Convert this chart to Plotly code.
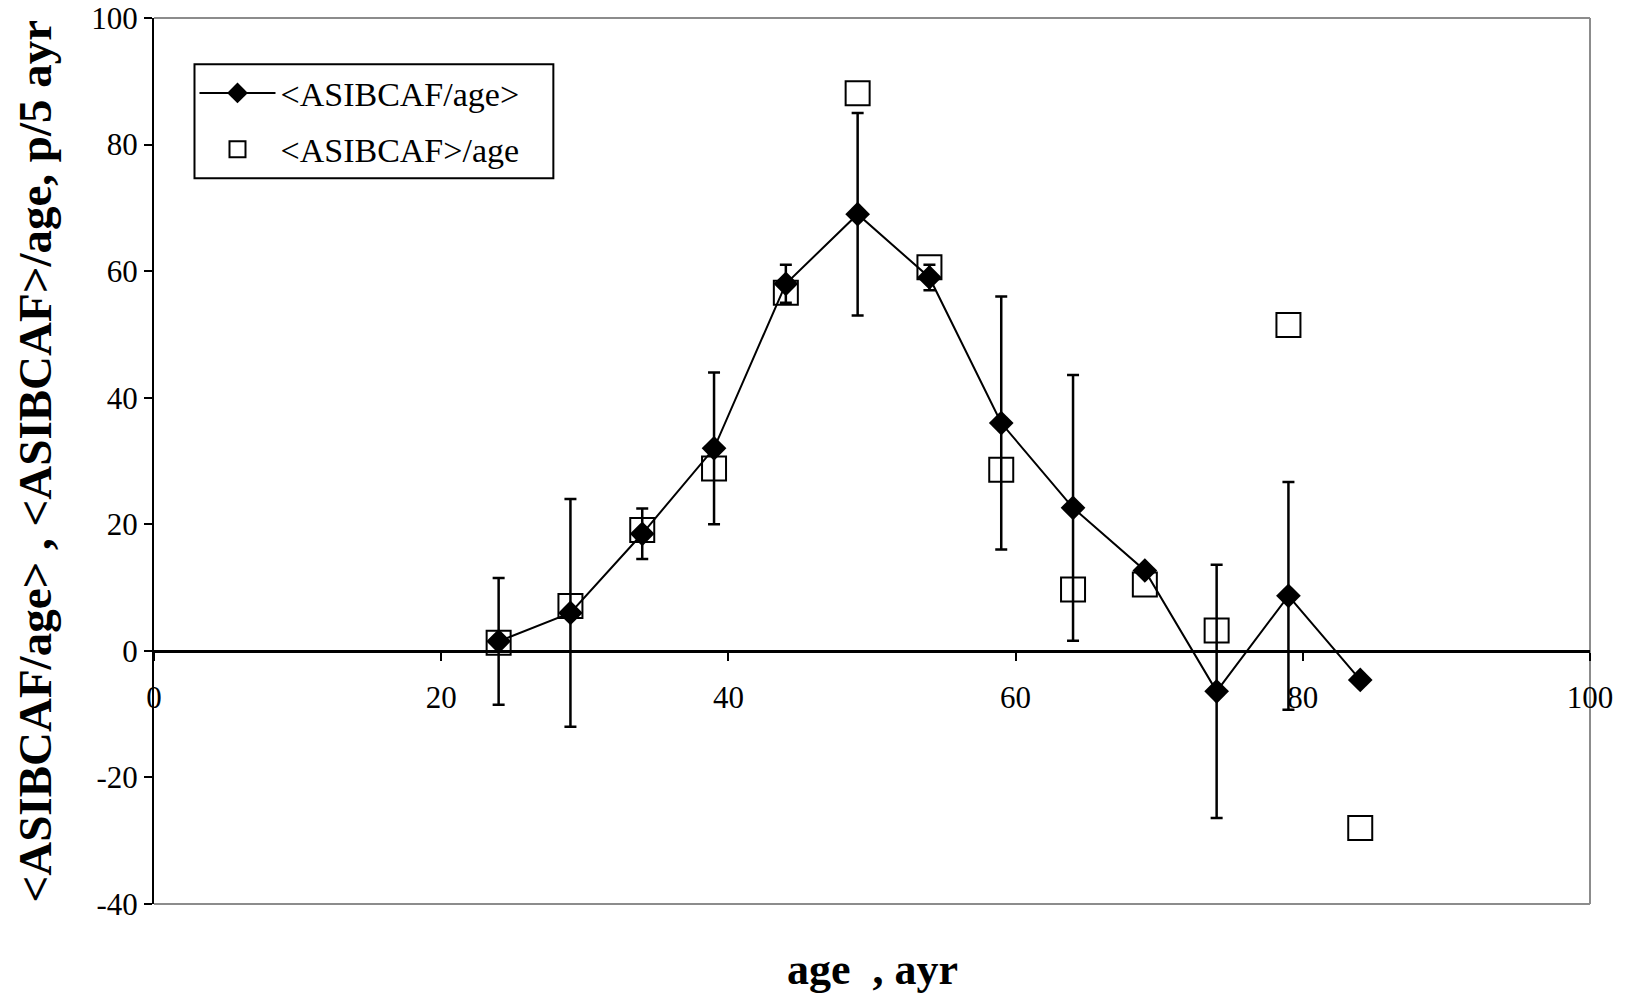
import plotly.graph_objects as go

# Age-bin centres (years)
ages = [24, 29, 34, 39, 44, 49, 54, 59, 64, 69, 74, 79, 84]
# Mean of per-age ratio, with its spread
ratio_mean = [1.5, 6.0, 18.5, 32.0, 58.0, 69.0, 59.0, 36.0, 22.6, 12.7, -6.4, 8.7, -4.6]
ratio_err = [10, 18, 4, 12, 3, 16, 2, 20, 21, 0, 20, 18, 0]
# Ratio of means
mean_ratio = [1.3, 7.1, 19.1, 28.8, 56.6, 88.1, 60.6, 28.6, 9.7, 10.5, 3.2, 51.5, -28.0]

x_ticks = [0, 20, 40, 60, 80, 100]
y_ticks = [-40, -20, 0, 20, 40, 60, 80, 100]

SERIF = "Liberation Serif, Times New Roman, serif"
FRAME = "#8c8c8c"

fig = go.Figure()

fig.add_trace(go.Scatter(
    x=ages, y=ratio_mean, name="&lt;ASIBCAF/age&gt;",
    mode="lines+markers",
    line=dict(color="black", width=2),
    marker=dict(symbol="diamond", size=19, color="black"),
    error_y=dict(type="data", array=ratio_err, visible=True,
                 color="black", thickness=2.5, width=6),
    legendgroup="a",
))

fig.add_trace(go.Scatter(
    x=ages, y=mean_ratio, name="&lt;ASIBCAF&gt;/age",
    mode="markers",
    marker=dict(symbol="square-open", size=24, color="black",
                line=dict(color="black", width=2)),
    legendgroup="b",
))

fig.update_layout(
    width=1626, height=997,
    margin=dict(l=153.5, r=36, t=17.6, b=93),
    paper_bgcolor="white", plot_bgcolor="white",
    font=dict(family=SERIF, size=31, color="black"),
    showlegend=True,
    legend=dict(
        x=0.0282, y=0.9477, xanchor="left", yanchor="top",
        bgcolor="rgba(0,0,0,0)", borderwidth=0,
        font=dict(family=SERIF, size=34, color="black"),
        traceorder="grouped", tracegroupgap=9,
        itemwidth=76,
    ),
    xaxis=dict(
        range=[0, 100], tickvals=x_ticks, ticktext=[str(v) for v in x_ticks],
        showgrid=False, zeroline=False, automargin=False,
        showline=True, linecolor="black", linewidth=3,
        ticks="outside", ticklen=8, tickwidth=2, tickcolor="black",
        anchor="free", position=40 / 140,
        ticklabelstandoff=10,
        tickfont=dict(family=SERIF, size=31),
    ),
    yaxis=dict(
        range=[-40, 100], tickvals=y_ticks, ticktext=[str(v) for v in y_ticks],
        showgrid=False, zeroline=False, automargin=False,
        showline=True, linecolor="black", linewidth=2,
        ticks="outside", ticklen=8, tickwidth=2, tickcolor="black",
        tickfont=dict(family=SERIF, size=31),
    ),
)

# Grey plot-area frame on the top, right and bottom sides
for x0, y0, x1, y1 in [(0, 1, 1, 1), (1, 0, 1, 1), (0, 0, 1, 0)]:
    fig.add_shape(type="line", xref="paper", yref="paper",
                  x0=x0, y0=y0, x1=x1, y1=y1,
                  line=dict(color=FRAME, width=2), layer="below")

# Legend frame
fig.add_shape(type="rect", xref="paper", yref="paper",
              x0=0.0282, x1=0.2781, y0=0.8190, y1=0.9477,
              line=dict(color="black", width=2), fillcolor="white",
              layer="below")

fig.add_annotation(
    text="<b>age  , ayr</b>", xref="paper", yref="paper",
    x=0.5, y=0, yshift=-65, xanchor="center", yanchor="middle",
    showarrow=False, font=dict(family=SERIF, size=44, color="black"),
)
fig.add_annotation(
    text="<b>&lt;ASIBCAF/age&gt; , &lt;ASIBCAF&gt;/age, p/5 ayr</b>",
    xref="paper", yref="paper", x=0, xshift=-119.5, y=0.5,
    xanchor="center", yanchor="middle", textangle=-90,
    showarrow=False, font=dict(family=SERIF, size=47, color="black"),
)

fig.write_html("out.html")
